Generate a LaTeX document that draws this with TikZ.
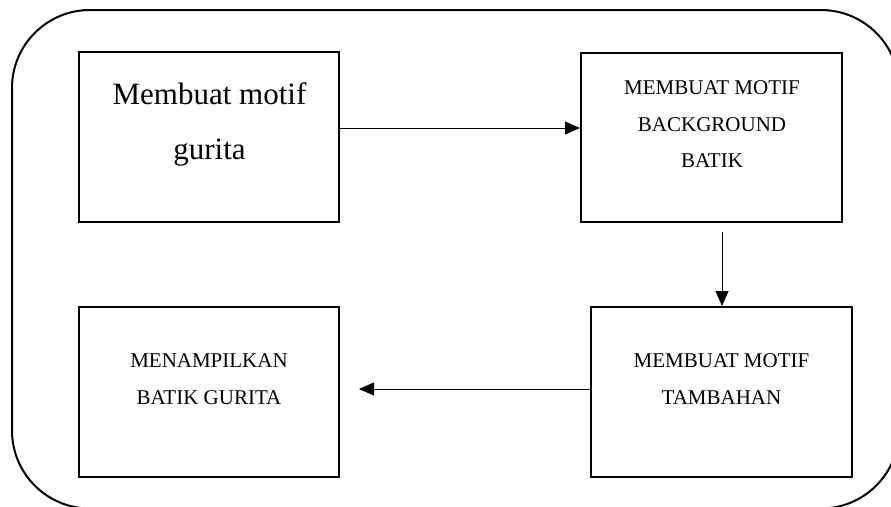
\documentclass[tikz,border=0pt]{standalone}
\usepackage{fontspec}
\setmainfont{Liberation Serif}
\usetikzlibrary{arrows.meta}
\begin{document}
\begin{tikzpicture}[x=1pt,y=-1pt,
  boxframe/.style={draw,line width=2pt,inner sep=0pt},
  bigtxt/.style={anchor=base,inner sep=0pt,font=\fontsize{31}{37}\selectfont},
  smalltxt/.style={anchor=base,inner sep=0pt,font=\fontsize{21}{25}\selectfont},
  arr/.style={line width=1pt,-{Triangle[length=15pt,width=13pt]}}]
\useasboundingbox (0,0) rectangle (891,506);
\clip (0,0) rectangle (891,506);
% outer rounded frame
\draw[line width=2pt,rounded corners=78pt] (12,10) rectangle (899,508.5);
% boxes
\node[boxframe,minimum width=260pt,minimum height=170pt] (b1) at (209,137) {};
\node[boxframe,minimum width=261pt,minimum height=169pt] (b2) at (711.5,137.5) {};
\node[boxframe,minimum width=261pt,minimum height=170pt] (b3) at (721.5,392) {};
\node[boxframe,minimum width=260pt,minimum height=170pt] (b4) at (209,392) {};
% texts
\node[bigtxt] (t1a) at (209.5,104) {Membuat motif};
\node[bigtxt] (t1b) at (209.5,159) {gurita};
\node[smalltxt] (t2a) at (712,94) {MEMBUAT MOTIF};
\node[smalltxt] (t2b) at (712,131.5) {BACKGROUND};
\node[smalltxt] (t2c) at (712,167.5) {BATIK};
\node[smalltxt] (t3a) at (721.5,367) {MEMBUAT MOTIF};
\node[smalltxt] (t3b) at (721.5,404) {TAMBAHAN};
\node[smalltxt] (t4a) at (209,367) {MENAMPILKAN};
\node[smalltxt] (t4b) at (209,404) {BATIK GURITA};
% connectors
\coordinate (a2s) at (722,232);
\coordinate (a3e) at (359,389);
\draw[arr] (b1.east |- 0,128) -- (b2.west |- 0,128);
\draw[arr] (a2s) -- (a2s |- b3.north);
\draw[arr] (b3.west |- a3e) -- (a3e);
\end{tikzpicture}
\end{document}
